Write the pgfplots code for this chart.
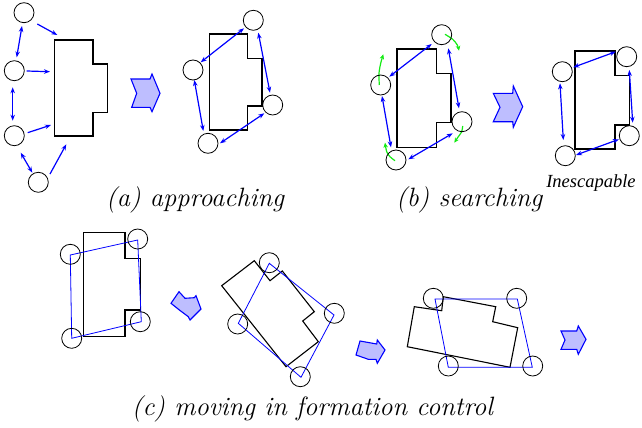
\documentclass[border=0pt]{standalone}
\usepackage{pgfplots}
\pgfplotsset{compat=1.18}
\usepackage{fontspec}
\newfontfamily\timesf{Liberation Serif}
\usetikzlibrary{arrows.meta}
\definecolor{chev}{RGB}{190,190,255}
\definecolor{grn}{RGB}{20,235,20}
\pgfplotsset{
  bld/.style={black, line width=1.1pt, no marks},
  circ/.style={only marks, mark=o, mark size=10pt, mark options={black, line width=0.8pt}},
  dbl/.style={blue, line width=1.2pt, no marks, arrows={Stealth[length=6pt,width=4.5pt]-Stealth[length=6pt,width=4.5pt]}},
  sgl/.style={blue, line width=1.2pt, no marks, arrows={-Stealth[length=6pt,width=4.5pt]}},
  quad/.style={blue, line width=0.8pt, no marks},
  chv/.style={draw=blue, fill=chev, line width=1.1pt, no marks},
  grarr/.style={grn, line width=1.2pt, no marks, smooth, arrows={-Stealth[length=5pt,width=4.5pt]}},
}
\newcommand{\capfont}{\fontsize{26.5}{30}\selectfont\itshape}
\begin{document}
\begin{tikzpicture}
\begin{axis}[x=1pt, y=1pt, xmin=0, xmax=642, ymin=0, ymax=428, y dir=reverse,
  hide axis, clip=false]
\addplot[draw=none, forget plot] coordinates {(0,0) (642,428)};
% ---------- panel (a) left
\addplot[bld] coordinates {(54.3,40) (93,40) (93,64) (107.3,64) (107.3,112.3) (93,112.3) (93,136) (54.3,136)} -- cycle;
\addplot[circ] coordinates {(24,12.7) (14.3,70.7) (14.3,135.7) (38.3,182.3)};
\addplot[sgl] coordinates {(37.3,24) (57.3,35)};
\addplot[sgl] coordinates {(26.7,71) (50,71.7)};
\addplot[sgl] coordinates {(27.7,132.7) (51,125)};
\addplot[sgl] coordinates {(50,174) (66.3,144.3)};
\addplot[dbl] coordinates {(22,26) (16.7,57.3)};
\addplot[dbl] coordinates {(12.7,87.3) (12.7,120.7)};
\addplot[dbl] coordinates {(20.7,152.7) (32.3,172.7)};
\addplot[chv] coordinates {(131,79) (150,79) (152,74) (160,93.3) (152,111.7) (150,107.3) (131.7,107.3) (136.7,93.3)} -- cycle;
% ---------- panel (a) right
\addplot[bld] coordinates {(209.3,34) (247.7,34) (247.7,58.3) (262,58.3) (262,106) (247.7,106) (247.7,130) (209.3,130)} -- cycle;
\addplot[circ] coordinates {(253.3,20.3) (193,70) (272.7,105) (208,143.3)};
\addplot[dbl] coordinates {(244,28.3) (200.7,62.3)};
\addplot[dbl] coordinates {(258.3,32.7) (270,92.7)};
\addplot[dbl] coordinates {(194.3,80) (203.3,131)};
\addplot[dbl] coordinates {(220,143.3) (264.3,113.3)};
% ---------- panel (b) left
\addplot[bld] coordinates {(397,49) (436.7,49) (436.7,73.3) (451,73.3) (451,122.3) (436.7,122.3) (436.7,147.3) (397,147.3)} -- cycle;
\addplot[circ] coordinates {(441.7,34.7) (380.7,85) (462,121.7) (396,160)};
\addplot[dbl] coordinates {(431.7,44) (389.3,76.7)};
\addplot[dbl] coordinates {(448.3,48.3) (459,108.3)};
\addplot[dbl] coordinates {(382,96) (391,147.3)};
\addplot[dbl] coordinates {(408.3,159.3) (452.7,133.3)};
\addplot[grarr] coordinates {(445,34.3) (452.7,39.3) (457.3,45) (459,50.7)};
\addplot[grarr] coordinates {(379.3,85) (379,73.3) (380.7,63.3) (383.3,54.3)};
\addplot[grarr] coordinates {(462.7,126) (461.7,131.7) (458.3,136.7) (454.3,142.7)};
\addplot[grarr] coordinates {(395,160.7) (390,156.7) (386.7,151.7) (385,142.7)};
\addplot[chv] coordinates {(493.3,93.3) (512.7,93.3) (513.3,86) (522.7,106.7) (513.3,127.3) (512.7,121.7) (493.3,121.7) (500,107.3)} -- cycle;
% ---------- panel (b) right
\addplot[bld] coordinates {(575,51) (615,51) (615,75.7) (629.3,75.7) (629.3,125) (615,125) (615,149) (575,149)} -- cycle;
\addplot[circ] coordinates {(562.3,71.7) (626.7,56.7) (629.3,135.7) (565.3,155.7)};
\addplot[dbl] coordinates {(573.3,67.3) (615.7,51.7)};
\addplot[dbl] coordinates {(560,83.3) (563.3,140)};
\addplot[dbl] coordinates {(629.3,70) (632.7,122.7)};
\addplot[dbl] coordinates {(576,155) (619,139.3)};
% ---------- panel (c) 1
\addplot[bld] coordinates {(83.3,232.7) (125,232.7) (125,258.3) (140.7,258.3) (140.7,310) (125,310) (125,336.7) (83.3,336.7)} -- cycle;
\addplot[circ] coordinates {(70.3,254.3) (137.7,239) (140.3,321.7) (71.7,338.3)};
\addplot[quad] coordinates {(70.3,255) (137.7,240) (141.3,321.7) (71.7,338.3)} -- cycle;
\addplot[chv] coordinates {(171,303.3) (179,291.7) (185,298.3) (194.3,297.7) (196,295.7) (201,309) (190,320) (188.3,316.7) (180,310.5)} -- cycle;
% ---------- panel (c) 2
\addplot[bld] coordinates {(221.7,285.7) (254.3,260.7) (270,280.7) (282.3,271) (314.3,311.7) (302.7,321) (318.3,341.7) (286,366.7)} -- cycle;
\addplot[circ] coordinates {(269.3,262.7) (237.7,324) (334.3,313.3) (300.3,376.7)};
\addplot[quad] coordinates {(269.3,263.3) (334,315) (301,377.3) (238.3,323.3)} -- cycle;
\addplot[chv] coordinates {(356,355) (360,341) (376.7,344) (377.3,340) (385,350) (377.3,363.3) (376,359.3) (368.3,359.3)} -- cycle;
% ---------- panel (c) 3
\addplot[bld] coordinates {(407.3,346.7) (414.3,306.7) (441.7,310.7) (443.3,296.7) (495.7,306.7) (492.7,321.7) (517.7,327.7) (510,367.3)} -- cycle;
\addplot[circ] coordinates {(433.3,298.3) (516.7,298.3) (448.3,366) (532.7,366)};
\addplot[quad] coordinates {(435,299) (517.3,299) (532.3,367.3) (448.3,367.3)} -- cycle;
\addplot[chv] coordinates {(561,331) (576.7,331) (578.3,326) (586,339.3) (578.3,354.3) (576.7,349.3) (561,349.3) (565,340)} -- cycle;
% ---------- texts
\node[anchor=base west, inner sep=0pt] at (axis cs:106,206) {\capfont (a) approaching};
\node[anchor=base west, inner sep=0pt] at (axis cs:396,206) {\capfont (b) searching};
\node[anchor=base west, inner sep=0pt] at (axis cs:131.7,415) {\capfont (c) moving in formation control};
\node[anchor=base, inner sep=0pt] at (axis cs:591,187) {\timesf\itshape\fontsize{18.5}{20}\selectfont Inescapable};
\end{axis}
\end{tikzpicture}
\end{document}
